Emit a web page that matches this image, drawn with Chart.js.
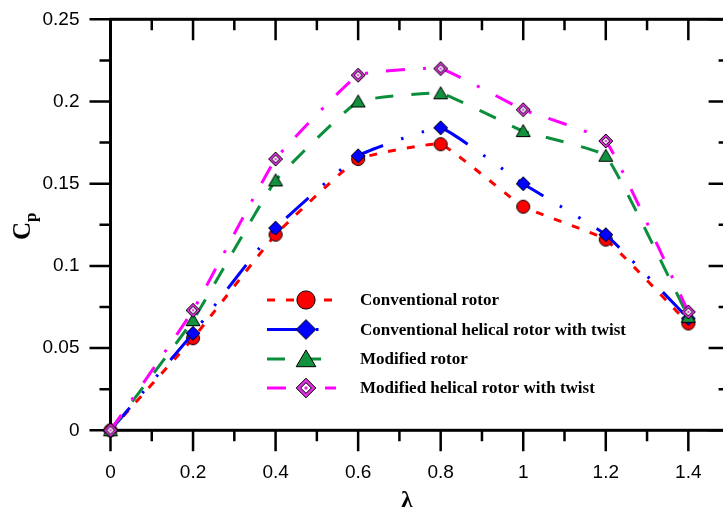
<!DOCTYPE html>
<html>
<head>
<meta charset="utf-8">
<title>Cp vs tip speed ratio</title>
<script src="https://cdn.jsdelivr.net/npm/chart.js@4.4.1/dist/chart.umd.min.js"></script>
<style>
  html, body { margin: 0; padding: 0; background: #fff; overflow: hidden; }
  #wrap { width: 740px; height: 512px; }
</style>
</head>
<body>
<div id="wrap"><canvas id="myChart" width="740" height="512"></canvas></div>
<script>
// tip speed ratio
const lambda = [0, 0.2, 0.4, 0.6, 0.8, 1.0, 1.2, 1.4];

// power coefficient of each rotor
const conventional       = [0, 0.056, 0.119, 0.165, 0.174, 0.136, 0.116, 0.065];
const conventionalHelix  = [0, 0.059, 0.123, 0.167, 0.184, 0.150, 0.119, 0.068];
const modified           = [0, 0.067, 0.152, 0.200, 0.205, 0.182, 0.167, 0.069];
const modifiedHelix      = [0, 0.073, 0.165, 0.216, 0.220, 0.195, 0.176, 0.072];

const seriesNames = [
  'Conventional rotor',
  'Conventional helical rotor with twist',
  'Modified rotor',
  'Modified helical rotor with twist'
];

const xTickValues = [0, 0.2, 0.4, 0.6, 0.8, 1, 1.2, 1.4];
const yTickValues = [0, 0.05, 0.1, 0.15, 0.2, 0.25];

// little canvases used as point markers (and reused in the legend)
function diamond(g, m, h) {
  g.moveTo(m, m - h); g.lineTo(m + h, m); g.lineTo(m, m + h); g.lineTo(m - h, m); g.closePath();
}
function marker(kind, fill, k) {
  const c = document.createElement('canvas');
  c.width = 28; c.height = 28;
  const g = c.getContext('2d');
  const m = 14;
  g.lineWidth = 1;
  g.strokeStyle = '#000';
  g.fillStyle = fill;
  g.beginPath();
  if (kind === 'circle') g.arc(m, m, 6.5 * k, 0, Math.PI * 2);
  else if (kind === 'triangle') { g.moveTo(m, m - 6.5 * k); g.lineTo(m + 7 * k, m + 5.5 * k); g.lineTo(m - 7 * k, m + 5.5 * k); g.closePath(); }
  else diamond(g, m, 7 * k);
  g.fill(); g.stroke();
  if (kind === 'double') {
    g.beginPath(); diamond(g, m, 3.8 * k);
    g.fillStyle = '#fff'; g.fill(); g.stroke();
    g.beginPath(); diamond(g, m, 1.5 * k);
    g.fillStyle = fill; g.fill();
  }
  return c;
}

function pts(vals) {
  return lambda.map((x, i) => ({ x: x, y: vals[i] }));
}

const datasets = [
  { label: seriesNames[0], data: pts(conventional), borderColor: '#ff0000',
    borderDash: [8, 11], shape: 'circle', fillColor: '#ff0000', order: 4 },
  { label: seriesNames[1], data: pts(conventionalHelix), borderColor: '#0000ff',
    borderDash: [30, 19, 2.5, 19, 2.5, 19], shape: 'diamond', fillColor: '#0000ff', order: 3 },
  { label: seriesNames[2], data: pts(modified), borderColor: '#0b8f3c',
    borderDash: [18, 18], shape: 'triangle', fillColor: '#12913f', order: 2 },
  { label: seriesNames[3], data: pts(modifiedHelix), borderColor: '#ff00ff',
    borderDash: [19, 18, 3, 18], shape: 'double', fillColor: '#e030e0', order: 1 }
];
datasets.forEach(d => {
  d.borderWidth = 3;
  d.tension = 0.1;
  d.fill = false;
  d.pointRadius = 7;
  d.clip = false;
  d.pointStyle = marker(d.shape, d.fillColor, 1);
  d.legendMark = marker(d.shape, d.fillColor, 1.4);
});

// box, inward/outward ticks, legend and axis titles
const framePlugin = {
  id: 'frame',
  beforeDatasetsDraw(chart) {
    const ctx = chart.ctx;
    const a = chart.chartArea;
    const xs = chart.scales.x, ys = chart.scales.y;
    ctx.save();
    ctx.strokeStyle = '#000';
    ctx.lineWidth = 2.5;
    ctx.beginPath();
    for (let i = 0; i <= 15; i++) {
      const px = xs.getPixelForValue(i / 10);
      const len = i % 2 === 0 ? 21 : 11;
      ctx.moveTo(px, a.bottom); ctx.lineTo(px, a.bottom + len);
      ctx.moveTo(px, a.top); ctx.lineTo(px, a.top + len);
    }
    for (let i = 0; i <= 10; i++) {
      const py = ys.getPixelForValue(i * 0.025);
      const len = i % 2 === 0 ? 21 : 11;
      ctx.moveTo(a.left, py); ctx.lineTo(a.left - len, py);
      ctx.moveTo(a.right, py); ctx.lineTo(a.right - len, py);
    }
    ctx.stroke();
    ctx.lineWidth = 3;
    ctx.strokeRect(a.left, a.top, a.right - a.left, a.bottom - a.top);
    ctx.restore();
  },
  afterDatasetsDraw(chart) {
    const ctx = chart.ctx;
    ctx.save();
    const rows = [300, 329.5, 359, 388];
    chart.data.datasets.forEach((d, i) => {
      const y = rows[i];
      ctx.strokeStyle = d.borderColor;
      ctx.lineWidth = 3;
      ctx.setLineDash(d.borderDash);
      ctx.beginPath();
      ctx.moveTo(267, y); ctx.lineTo(336, y);
      ctx.stroke();
      ctx.setLineDash([]);
      ctx.drawImage(d.legendMark, 306 - 14, y - 14);
      ctx.fillStyle = '#000';
      ctx.font = 'bold 17px "Liberation Serif"';
      ctx.textBaseline = 'middle';
      ctx.textAlign = 'left';
      ctx.fillText(d.label, 360, y + 1);
    });
    ctx.restore();
  },
  afterDraw(chart) {
    const ctx = chart.ctx;
    ctx.save();
    ctx.fillStyle = '#000';
    ctx.textAlign = 'center';
    ctx.textBaseline = 'alphabetic';
    ctx.font = 'bold 23px "Liberation Serif"';
    ctx.fillText('\u03bb', 407, 506.5);

    ctx.translate(29.5, 240);
    ctx.rotate(-Math.PI / 2);
    ctx.textAlign = 'left';
    ctx.font = 'bold 25px "Liberation Serif"';
    ctx.fillText('C', 0, 0);
    const w = ctx.measureText('C').width;
    ctx.font = 'bold 17px "Liberation Serif"';
    ctx.fillText('p', w, 6.5);
    ctx.restore();
  }
};

const tickFont = { family: '"Liberation Sans", Arial, sans-serif', size: 19 };

function noPad(s) {
  s.paddingTop = 0; s.paddingBottom = 0; s.paddingLeft = 0; s.paddingRight = 0;
}

const config = {
  type: 'line',
  data: { datasets: datasets },
  options: {
    responsive: false,
    animation: false,
    devicePixelRatio: 1,
    layout: { padding: { top: 19.3, right: 10.4, left: 0, bottom: 0 } },
    plugins: { legend: { display: false }, tooltip: { enabled: false } },
    scales: {
      x: {
        type: 'linear',
        min: 0,
        max: 1.5,
        grid: { display: false, drawTicks: false },
        border: { display: false },
        afterBuildTicks: s => { s.ticks = xTickValues.map(v => ({ value: v })); },
        afterFit: s => { s.height = 512 - 430.3; noPad(s); },
        ticks: {
          color: '#000',
          font: tickFont,
          padding: 31,
          maxRotation: 0,
          callback: v => String(Math.round(v * 10) / 10)
        }
      },
      y: {
        type: 'linear',
        min: 0,
        max: 0.25,
        grid: { display: false, drawTicks: false },
        border: { display: false },
        afterBuildTicks: s => { s.ticks = yTickValues.map(v => ({ value: v })); },
        afterFit: s => { s.width = 110.5; noPad(s); },
        ticks: {
          color: '#000',
          font: tickFont,
          padding: 31,
          callback: v => String(Math.round(v * 100) / 100)
        }
      }
    }
  },
  plugins: [framePlugin]
};

const myChart = new Chart(document.getElementById('myChart'), config);
</script>
</body>
</html>
